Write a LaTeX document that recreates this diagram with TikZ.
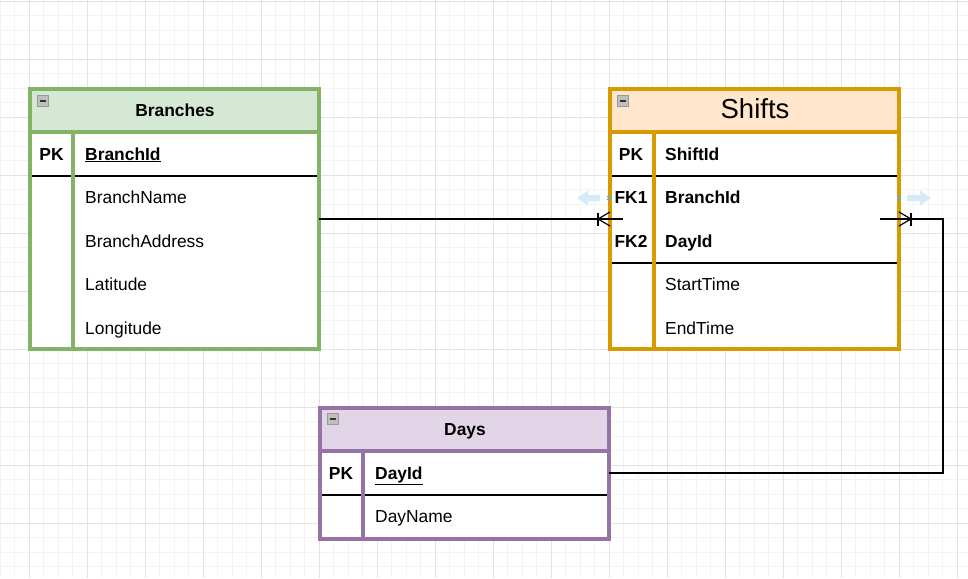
\documentclass[tikz,border=0pt]{standalone}
\usepackage{fontspec}
\setmainfont{Liberation Sans}
\definecolor{gS}{HTML}{82B366}
\definecolor{gF}{HTML}{D5E8D4}
\definecolor{oS}{HTML}{D79B00}
\definecolor{oF}{HTML}{FFE6CC}
\definecolor{pS}{HTML}{9673A6}
\definecolor{pF}{HTML}{E1D5E7}
\definecolor{gridmin}{HTML}{F3F3F3}
\definecolor{gridmaj}{HTML}{E3E3E3}
\definecolor{hoverb}{HTML}{D6EBFA}
\definecolor{hoverx}{HTML}{4FA8E8}
\tikzset{
  tbl/.style={draw=#1, line width=4pt, inner sep=0pt, outer sep=0pt, minimum width=289pt},
  field/.style={anchor=base west, inner sep=0pt, font=\fontsize{17.4}{20}\selectfont},
  fieldb/.style={anchor=base west, inner sep=0pt, font=\fontsize{17.4}{20}\selectfont\bfseries},
  keyf/.style={anchor=base, inner sep=0pt, font=\fontsize{17.4}{20}\selectfont\bfseries},
  title/.style={anchor=base, inner sep=0pt, font=\fontsize{17.4}{20}\selectfont\bfseries},
  rowline/.style={line width=1.4pt, black},
  conn/.style={line width=1.2pt, black},
}
\newcommand{\collapseicon}[2]{%
  \fill[gray!50, draw=gray!80, line width=0.9pt] (#1,#2) rectangle ++(11.5,11.5);
  \draw[black!80, line width=1.5pt] (#1+2.5,#2+5.8) -- ++(6.5,0);}
\begin{document}
\begin{tikzpicture}[x=1pt,y=-1pt]
\useasboundingbox (0,0) rectangle (968,578);
\fill[white] (0,0) rectangle (968,578);
% grid
\foreach \i in {0,...,67} {
  \draw[gridmin, line width=1pt] (0.3+14.5*\i,0) -- (0.3+14.5*\i,578);
}
\foreach \i in {0,...,40} {
  \draw[gridmin, line width=1pt] (0,1.3+14.5*\i) -- (968,1.3+14.5*\i);
}
\foreach \i in {0,...,16} {
  \draw[gridmaj, line width=1pt] (29.3+58*\i,0) -- (29.3+58*\i,578);
}
\foreach \i in {0,...,9} {
  \draw[gridmaj, line width=1pt] (0,1.3+58*\i) -- (968,1.3+58*\i);
}

% ---------- Branches ----------
\fill[white] (30,89) rectangle (319,349);
\fill[gF] (30,89) rectangle (319,132);
\draw[rowline] (30,176) -- (319,176);
\draw[gS, line width=4pt] (30,132) -- (319,132);
\draw[gS, line width=4pt] (73,132) -- (73,349);
\node[tbl=gS, minimum height=260pt] (branches) at (174.5,219) {};
\collapseicon{37}{95}
\node[title] (bt) at (175,116) {Branches};
\node[keyf] (bpk) at (51.5,160) {PK};
\node[fieldb] (b1) at (85,160) {\underline{BranchId}};
\node[field] (b2) at (85,203) {BranchName};
\node[field] (b3) at (85,247) {BranchAddress};
\node[field] (b4) at (85,290) {Latitude};
\node[field] (b5) at (85,334) {Longitude};

% ---------- Shifts ----------
\fill[white] (610,89) rectangle (899,349);
\fill[oF] (610,89) rectangle (899,132);
\draw[rowline] (610,176) -- (899,176);
\draw[rowline] (610,263) -- (899,263);
\draw[oS, line width=4pt] (610,132) -- (899,132);
\draw[oS, line width=4pt] (654,132) -- (654,349);
\node[tbl=oS, minimum height=260pt] (shifts) at (754.5,219) {};
\collapseicon{617}{95}
\node[anchor=base, inner sep=0pt, font=\fontsize{27.5}{30}\selectfont] (st) at (755,118.5) {Shifts};
\node[keyf] (spk) at (631,160) {PK};
\node[keyf] (sfk1) at (631,203) {FK1};
\node[keyf] (sfk2) at (631,247) {FK2};
\node[fieldb] (s1) at (665,160) {ShiftId};
\node[fieldb] (s2) at (665,203) {BranchId};
\node[fieldb] (s3) at (665,247) {DayId};
\node[field] (s4) at (665,290) {StartTime};
\node[field] (s5) at (665,334) {EndTime};

% ---------- Days ----------
\fill[white] (320,407) rectangle (609,538);
\fill[pF] (320,407) rectangle (609,451);
\draw[rowline] (320,495) -- (609,495);
\draw[pS, line width=4pt] (320,451) -- (609,451);
\draw[pS, line width=4pt] (363,451) -- (363,538);
\node[tbl=pS, minimum height=131pt] (days) at (464.5,473) {};
\collapseicon{327}{413}
\node[title] (dt) at (465,435) {Days};
\node[keyf] (dpk) at (341,479) {PK};
\node[fieldb] (d1) at (375,479) {\underline{DayId}};
\node[field] (d2) at (375,522) {DayName};

% ---------- connectors ----------
\coordinate (bend) at (943,473);
\draw[conn] (branches.east) -- (shifts.west);
\draw[line width=2pt] ([xshift=-15pt]shifts.west) -- ([xshift=13pt]shifts.west);
\draw[conn] ([xshift=-12pt,yshift=6.5pt]shifts.west) -- ([xshift=-12pt,yshift=-6.5pt]shifts.west);
\draw[conn] ([yshift=7pt]shifts.west) -- ([xshift=-12pt]shifts.west) -- ([yshift=-7pt]shifts.west);

\draw[conn] (shifts.east) -- (shifts.east -| bend) -- (bend |- days.east) -- (days.east);
\draw[line width=2pt] ([xshift=-19pt]shifts.east) -- (shifts.east);
\draw[conn] ([xshift=12pt,yshift=6.5pt]shifts.east) -- ([xshift=12pt,yshift=-6.5pt]shifts.east);
\draw[conn] ([yshift=7pt]shifts.east) -- ([xshift=12pt]shifts.east) -- ([yshift=-7pt]shifts.east);

% ---------- hover hints ----------
\fill[hoverb] (577,198) -- (588,190.5) -- (588,195) -- (600,195) -- (600,201) -- (588,201) -- (588,205.5) -- cycle;
\fill[hoverb] (931,198) -- (920,190.5) -- (920,195) -- (907,195) -- (907,201) -- (920,201) -- (920,205.5) -- cycle;
\draw[hoverx, line width=0.9pt] (607,196) -- (611,200) (607,200) -- (611,196);
\draw[hoverx, line width=0.9pt] (897,196) -- (901,200) (897,200) -- (901,196);
\end{tikzpicture}
\end{document}
